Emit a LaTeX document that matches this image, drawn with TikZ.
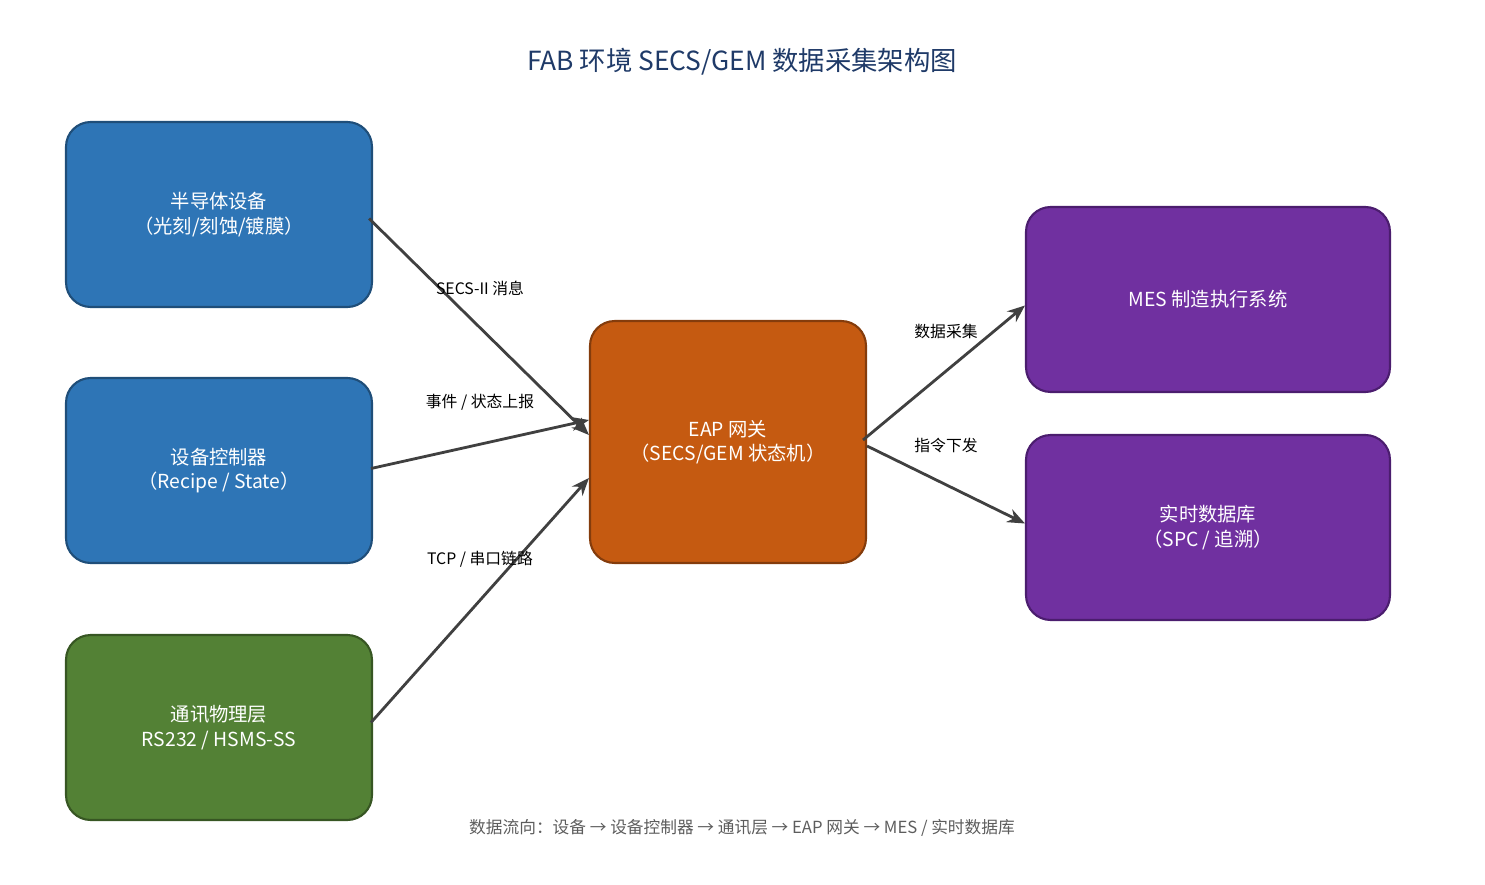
\documentclass[tikz,border=0pt]{standalone}
\usepackage{fontspec}
\setmainfont{Noto Sans CJK SC}
\usepackage{xcolor}
\usetikzlibrary{arrows.meta,positioning,calc}

\definecolor{devblue}{HTML}{2E75B6}
\definecolor{devblueline}{HTML}{1F4E79}
\definecolor{eaporange}{HTML}{C55A11}
\definecolor{eaporangeline}{HTML}{843C0C}
\definecolor{physgreen}{HTML}{538135}
\definecolor{physgreenline}{HTML}{375623}
\definecolor{mespurple}{HTML}{7030A0}
\definecolor{mespurpleline}{HTML}{4B1D6E}
\definecolor{flowgray}{HTML}{404040}
\definecolor{titleblue}{HTML}{1F3A68}

\tikzset{
  box/.style={draw, line width=1.2pt, rounded corners=14pt, align=center,
    text=white, font=\fontsize{11}{14}\selectfont, inner sep=0pt},
  flow/.style={-{Stealth[length=10pt,width=8pt]}, line width=1.6pt, draw=flowgray},
  lbl/.style={font=\fontsize{9}{11}\selectfont, text=black}
}

\begin{document}
\begin{tikzpicture}[x=0.02cm, y=-0.02cm]
\useasboundingbox (0,0) rectangle (1485,885);

% title
\node[font=\fontsize{15}{18}\selectfont, text=titleblue] (title) at (742,62) {FAB 环境 SECS/GEM 数据采集架构图};

% left column
\node[box, fill=devblue, draw=devblueline, minimum width=6.12cm, minimum height=3.7cm] (dev) at (219,214.5) {半导体设备\\（光刻/刻蚀/镀膜）};
\node[box, fill=devblue, draw=devblueline, minimum width=6.12cm, minimum height=3.7cm] (ctrl) at (219,470.5) {设备控制器\\（Recipe / State）};
\node[box, fill=physgreen, draw=physgreenline, minimum width=6.12cm, minimum height=3.7cm] (phys) at (219,727.5) {通讯物理层\\RS232 / HSMS-SS};

% gateway
\node[box, fill=eaporange, draw=eaporangeline, minimum width=5.52cm, minimum height=4.84cm] (eap) at (728,442) {EAP 网关\\（SECS/GEM 状态机）};

% right column
\node[box, fill=mespurple, draw=mespurpleline, minimum width=7.28cm, minimum height=3.7cm] (mes) at (1208,299.5) {MES 制造执行系统};
\node[box, fill=mespurple, draw=mespurpleline, minimum width=7.28cm, minimum height=3.7cm] (db) at (1208,527.5) {实时数据库\\（SPC / 追溯）};

% connector ends
\coordinate (eapa) at ($(eap.west)+(0,-7)$);
\coordinate (eapb) at ($(eap.west)+(0,-22)$);
\coordinate (eapc) at ($(eap.west)+(0,36)$);
\coordinate (eapd) at ($(eap.east)+(-4,-2)$);
\coordinate (eape) at ($(eap.east)+(0,4)$);
\coordinate (mesw) at ($(mes.west)+(0,6)$);
\coordinate (dbw) at ($(db.west)+(0,-4)$);

\draw[flow] ($(dev.east)+(-4,4)$) -- (eapa);
\draw[flow] ($(ctrl.east)+(-2,-2)$) -- (eapb);
\draw[flow] ($(phys.east)+(-2,-5)$) -- (eapc);
\draw[flow] (eapd) -- (mesw);
\draw[flow] (eape) -- (dbw);

% labels
\node[lbl] (l1) at (480,288) {SECS-II 消息};
\node[lbl] (l2) at (480,402) {事件 / 状态上报};
\node[lbl] (l3) at (480,559) {TCP / 串口链路};
\node[lbl] (l4) at (946,331) {数据采集};
\node[lbl] (l5) at (946,445) {指令下发};

% footer
\node[font=\fontsize{9.5}{12}\selectfont, text=flowgray!85] (foot) at (742,828) {数据流向：设备 → 设备控制器 → 通讯层 → EAP 网关 → MES / 实时数据库};
\end{tikzpicture}
\end{document}
